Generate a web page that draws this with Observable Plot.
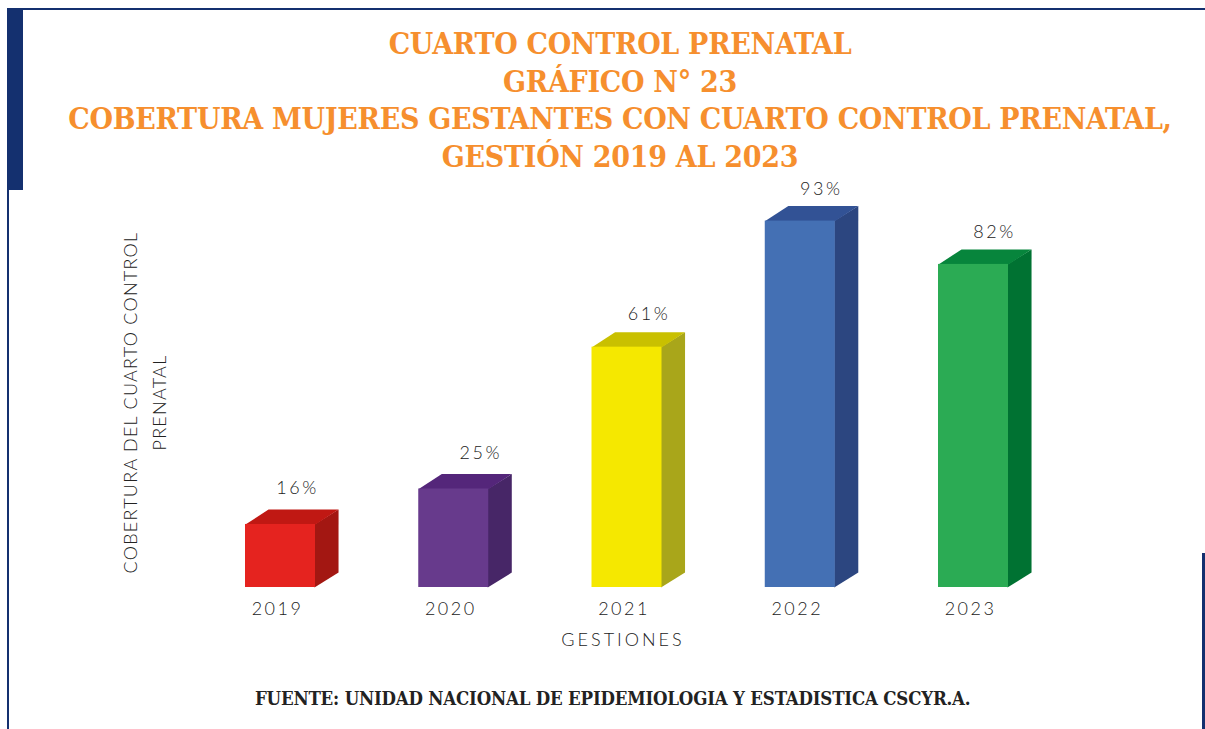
<!DOCTYPE html>
<html lang="es">
<head>
<meta charset="utf-8">
<script src="https://cdn.jsdelivr.net/npm/d3@7"></script>
<script src="https://cdn.jsdelivr.net/npm/@observablehq/plot@0.6"></script>
<style>
  html, body { margin: 0; padding: 0; background: #fff; }
  #page { position: relative; width: 1205px; height: 729px; overflow: hidden; background: #fff; }
  .frame { position: absolute; background: #14306f; }
  #title { position: absolute; left: 0; top: 25px; width: 1240px; text-align: center;
    font: bold 30px/37.6px "DejaVu Serif", serif; font-stretch: condensed; color: #f68f2e; letter-spacing: -0.3px; margin: 0; }
  #chart { position: absolute; left: 0; top: 185px; }
  #source { position: absolute; left: 255px; top: 688px; white-space: nowrap;
    font: bold 18.5px/22px "DejaVu Serif", serif; font-stretch: condensed; color: #222; letter-spacing: -0.2px; }
</style>
</head>
<body>
<div id="page">
  <div class="frame" style="left:7px;top:8px;width:1198px;height:2px"></div>
  <div class="frame" style="left:7px;top:8px;width:16px;height:182px"></div>
  <div class="frame" style="left:7px;top:190px;width:2px;height:539px"></div>
  <div class="frame" style="left:1202px;top:553px;width:3px;height:176px"></div>
  <h1 id="title">CUARTO CONTROL PRENATAL<br>GRÁFICO N° 23<br>COBERTURA MUJERES GESTANTES CON CUARTO CONTROL PRENATAL,<br>GESTIÓN 2019 AL 2023</h1>
  <div id="chart"></div>
  <div id="source">FUENTE: UNIDAD NACIONAL DE EPIDEMIOLOGIA Y ESTADISTICA CSCYR.A.</div>
</div>
<script>
const years = [2019, 2020, 2021, 2022, 2023];
const coverage = [16, 25, 61, 93, 82];
const frontColors = ["#e5231f", "#673a8c", "#f5e800", "#4470b4", "#2bab54"];
const topColors = ["#c01813", "#54267a", "#c9c000", "#325295", "#07853c"];
const sideColors = ["#a31712", "#472667", "#a9a61a", "#2c4680", "#007232"];
const yTitle = "COBERTURA DEL CUARTO CONTROL\nPRENATAL";
const xTitle = "GESTIONES";

// Bar shape in data units (years across, percentage points up).
const halfWidth = 0.202, depthX = 0.133, depthY = 3.8, seam = 0.006;
// Label placement per bar, in pixels.
const labelDx = [17, 27, 22, 21, 21];
const labelDy = [-36, -36, -33, -32, -32];

const rows = years.map((year, i) => ({
  year, value: coverage[i], front: frontColors[i], top: topColors[i], side: sideColors[i],
  x1: year - halfWidth, x2: year + halfWidth, dx: labelDx[i], dy: labelDy[i]
}));
const sideFaces = rows.flatMap(d => [
  {k: d.year, x: d.x2 - seam, y: 0, fill: d.side},
  {k: d.year, x: d.x2 + depthX, y: depthY, fill: d.side},
  {k: d.year, x: d.x2 + depthX, y: d.value + depthY, fill: d.side},
  {k: d.year, x: d.x2 - seam, y: d.value, fill: d.side}
]);
const topFaces = rows.flatMap(d => [
  {k: d.year, x: d.x1, y: d.value, fill: d.top},
  {k: d.year, x: d.x1 + depthX, y: d.value + depthY, fill: d.top},
  {k: d.year, x: d.x2 + depthX, y: d.value + depthY, fill: d.top},
  {k: d.year, x: d.x2, y: d.value, fill: d.top}
]);

const labelFont = {fontFamily: "Lato, sans-serif", fontWeight: 300};
const chart = Plot.plot({
  width: 1205, height: 480,
  marginTop: 8, marginBottom: 78, marginLeft: 280, marginRight: 232,
  style: {background: "transparent", overflow: "visible"},
  x: {domain: [2019, 2023], label: null},
  y: {domain: [0, 100], axis: null},
  color: {type: "identity"},
  marks: [
    Plot.line(sideFaces, {x: "x", y: "y", z: "k", fill: "fill", stroke: null, curve: "linear"}),
    Plot.line(topFaces, {x: "x", y: "y", z: "k", fill: "fill", stroke: null, curve: "linear"}),
    Plot.rectY(rows, {x1: "x1", x2: "x2", y1: 0, y2: "value", fill: "front", inset: 0}),
    rows.map(d => Plot.text([d], {
      x: "year", y: "value", text: r => r.value + "%", dx: d.dx, dy: d.dy,
      fontSize: 18, fill: "#222", ...labelFont
    })),
    Plot.axisX({
      ticks: years, tickFormat: d => String(d), tickSize: 0, tickPadding: 15, dx: -3,
      fontSize: 18, fill: "#222", ...labelFont, label: null
    }),
    Plot.text([xTitle], {
      frameAnchor: "bottom", dy: 58, dx: -4, fontSize: 18, fill: "#222", ...labelFont
    }),
    Plot.text([yTitle], {
      frameAnchor: "left", dx: -138, dy: 12, rotate: -90, textAnchor: "middle",
      lineHeight: 1.6, fontSize: 18, fill: "#222", ...labelFont
    })
  ]
});
document.getElementById("chart").appendChild(chart);
chart.querySelectorAll("text").forEach(t => {
  const s = t.textContent;
  t.style.letterSpacing = s === xTitle ? "3px" : /\d/.test(s) ? "2.5px" : "1.25px";
});
</script>
</body>
</html>
